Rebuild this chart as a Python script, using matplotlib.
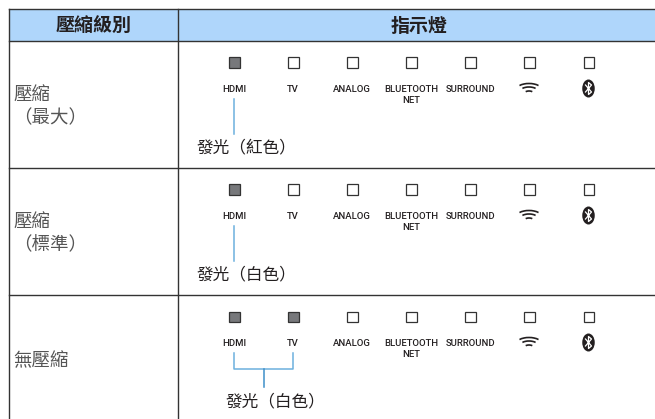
import matplotlib
matplotlib.use("Agg")
import matplotlib.pyplot as plt
from matplotlib.patches import Rectangle, Ellipse, Arc

plt.rcParams['font.family'] = ['Noto Sans CJK TC', 'DejaVu Sans']

headers = ["壓縮級別", "指示燈"]
levels = ["壓縮\n（最大）", "壓縮\n（標準）", "無壓縮"]
captions = ["發光（紅色）", "發光（白色）", "發光（白色）"]
indicators = ["HDMI", "TV", "ANALOG", "BLUETOOTH\nNET", "SURROUND", "wifi", "bt"]
lit = [[1, 0, 0, 0, 0, 0, 0],
       [1, 0, 0, 0, 0, 0, 0],
       [1, 1, 0, 0, 0, 0, 0]]

col_x = [234, 293, 352, 411, 470, 529, 588.5]
row_y = [41, 168, 295]
dark = "#231f20"
blue = "#6cb0de"

fig = plt.figure(figsize=(6.55, 4.19), dpi=100)
ax = fig.add_axes([0, 0, 1, 1])
ax.set_xlim(0, 655)
ax.set_ylim(419, 0)
ax.axis("off")

# header band and grid
ax.add_patch(Rectangle((9, 9), 646, 32, fc="#afd6fb", ec="none"))
for y in [9] + row_y:
    ax.plot([9, 655], [y, y], color="#333333", lw=1.0)
for x in [9, 178]:
    ax.plot([x, x], [9, 419], color="#333333", lw=1.0)

ax.text(93.5, 26.5, headers[0], ha="center", va="center", fontsize=13.7, weight="black", color=dark)
ax.text(419, 26.5, headers[1], ha="center", va="center", fontsize=13.7, weight="black", color=dark)


def wifi(cx, top):
    for w, dy in [(26, 0), (18, 3.5), (9, 7.5)]:
        h = w * 0.5
        ax.add_patch(Arc((cx, top + dy + h / 2), w, h, theta1=205, theta2=335,
                         color=dark, lw=1.2))


def bluetooth(cx, cy):
    ax.add_patch(Ellipse((cx, cy), 12.5, 18, fc=dark, ec="none"))
    ax.plot([cx - 3, cx + 3, cx, cx, cx + 3, cx - 3],
            [cy - 3.5, cy + 3.5, cy + 6, cy - 6, cy - 3.5, cy + 3.5],
            color="white", lw=0.9)


for r, top in enumerate(row_y):
    # left column text
    if "\n" in levels[r]:
        a, b = levels[r].split("\n")
        ax.text(13.5, top + 54.5, a, ha="left", va="center", fontsize=13.3, weight="light", color="#555555")
        ax.text(13.5, top + 77.5, b, ha="left", va="center", fontsize=13.3, weight="light", color="#555555")
    else:
        ax.text(13.5, top + 66, levels[r], ha="left", va="center", fontsize=13.3, weight="light", color="#555555")

    for c, name in enumerate(indicators):
        x = col_x[c]
        fc = "#77787b" if lit[r][c] else "white"
        ax.add_patch(Rectangle((x - 5, top + 16.5), 10.5, 10.5, fc=fc, ec="#333333", lw=0.9))
        if name == "wifi":
            wifi(x, top + 42.5)
        elif name == "bt":
            bluetooth(x, top + 47.5)
        else:
            ax.text(x, top + 44, name, ha="center", va="top", fontsize=6.8,
                    family=["Roboto", "DejaVu Sans"], weight="medium", color=dark, linespacing=1.25)

    # callouts
    if sum(lit[r]) == 1:
        ax.plot([col_x[0], col_x[0]], [top + 58, top + 93], color=blue, lw=1.1)
        ax.text(197, top + 107, captions[r], ha="left", va="center", fontsize=12, color=dark)
    else:
        x0, x1 = col_x[0], col_x[1]
        mx = (x0 + x1) / 2
        ax.plot([x0, x0, x1, x1], [top + 58, top + 74, top + 74, top + 58], color=blue, lw=1.1)
        ax.plot([mx, mx], [top + 74, top + 92], color="#3f8fc9", lw=1.1)
        ax.text(226, top + 107, captions[r], ha="left", va="center", fontsize=12, color=dark)

fig.savefig("out.png", dpi=100)
